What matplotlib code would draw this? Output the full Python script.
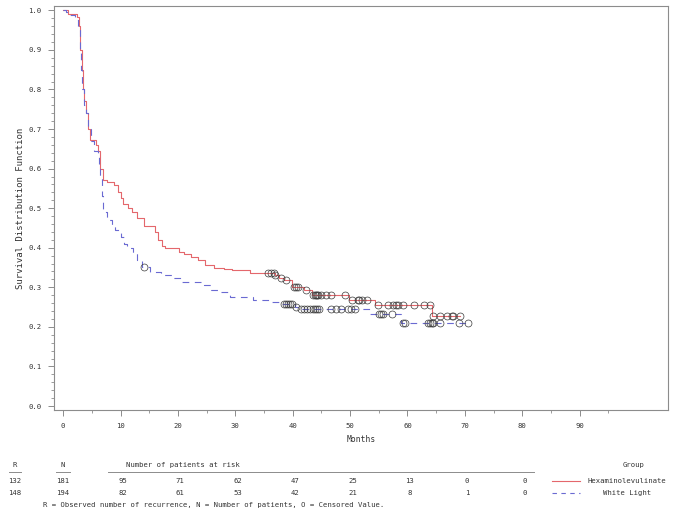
import numpy as np
import matplotlib
matplotlib.use("Agg")
import matplotlib.pyplot as plt
import matplotlib.transforms as mtransforms
from matplotlib.lines import Line2D
from matplotlib.ticker import MultipleLocator

# Kaplan-Meier steps (months, survival after the step)
hex_times = [0, 0.9, 2.4, 2.7, 3.0, 3.2, 3.4, 3.7, 4.0, 4.3, 4.7, 5.8, 6.1, 6.5, 7.0,
             7.6, 8.8, 9.5, 10.0, 10.5, 11.3, 12.0, 12.9, 14.0, 16.0, 16.6, 17.2, 17.8,
             20.1, 21.0, 22.2, 23.5, 24.8, 26.3, 28.0, 29.5, 32.5, 36.9, 37.6, 38.5,
             39.8, 41.9, 43.3, 49.8, 54.4, 64.2, 69.2]
hex_surv = [1.0, 0.99, 0.983, 0.96, 0.90, 0.85, 0.80, 0.77, 0.74, 0.70, 0.672, 0.66,
            0.645, 0.60, 0.571, 0.565, 0.558, 0.54, 0.525, 0.51, 0.50, 0.49, 0.475,
            0.455, 0.44, 0.42, 0.405, 0.399, 0.389, 0.383, 0.376, 0.37, 0.356, 0.348,
            0.345, 0.343, 0.336, 0.33, 0.324, 0.318, 0.30, 0.293, 0.28, 0.268, 0.255,
            0.227, 0.227]
hex_censor = [35.7, 36.3, 36.7, 37.0, 37.9, 38.8, 40.2, 40.6, 41.0, 42.3, 43.6, 43.8,
              44.0, 44.2, 44.4, 45.0, 45.8, 46.7, 49.1, 50.4, 51.3, 51.6, 52.0, 53.0,
              54.9, 56.6, 57.5, 58.0, 58.4, 59.3, 61.2, 62.8, 64.0, 64.5, 65.6, 66.8,
              67.7, 68.0, 69.2]

wl_times = [0, 0.5, 1.0, 2.0, 2.5, 2.9, 3.1, 3.3, 3.6, 3.9, 4.3, 4.8, 5.3, 6.0, 6.3,
            6.5, 6.8, 7.0, 7.6, 8.5, 9.1, 10.0, 10.6, 11.2, 12.2, 12.9, 13.8, 15.2,
            17.0, 19.2, 20.5, 24.6, 25.8, 27.2, 29.0, 33.0, 36.3, 37.8, 40.4, 41.2,
            53.5, 58.8, 70.6]
wl_surv = [1.0, 0.995, 0.987, 0.975, 0.957, 0.90, 0.85, 0.80, 0.76, 0.74, 0.70, 0.67,
           0.645, 0.63, 0.60, 0.575, 0.53, 0.49, 0.47, 0.455, 0.444, 0.427, 0.41, 0.40,
           0.386, 0.37, 0.351, 0.338, 0.331, 0.323, 0.313, 0.306, 0.293, 0.288, 0.275,
           0.268, 0.263, 0.258, 0.25, 0.245, 0.232, 0.209, 0.209]
wl_censor = [14.1, 38.5, 38.9, 39.2, 39.5, 39.8, 40.6, 41.4, 41.9, 42.5, 43.0, 43.5,
             43.9, 44.2, 44.6, 46.7, 47.6, 48.4, 49.7, 50.2, 50.9, 55.0, 55.4, 55.8,
             57.3, 59.3, 59.6, 63.6, 63.9, 64.2, 64.5, 65.6, 68.9, 70.6]

groups = ["Hexaminolevulinate", "White Light"]
recurrences = [132, 148]
patients = [181, 194]
risk_months = [10, 20, 30, 40, 50, 60, 70, 80]
hex_at_risk = [95, 71, 62, 47, 25, 13, 0, 0]
wl_at_risk = [82, 61, 53, 42, 21, 8, 1, 0]

red = "#e4676c"
blue = "#6a6ad2"
gray = "#8c8c8c"
mono = "DejaVu Sans Mono"
fs = 5.2

W, H = 675, 517


def surv_at(times, surv, t):
    i = np.searchsorted(times, t, side="right") - 1
    return surv[i]


fig = plt.figure(figsize=(W / 100, H / 100), dpi=100)
ax = fig.add_axes([54 / W, 1 - 410 / H, (668 - 54) / W, (410 - 6) / H])

ax.step(hex_times, hex_surv, where="post", color=red, lw=0.8)
ax.step(wl_times, wl_surv, where="post", color=blue, lw=0.8, dashes=(6, 5))

hc_y = [surv_at(hex_times, hex_surv, t) for t in hex_censor]
wc_y = [surv_at(wl_times, wl_surv, t) for t in wl_censor]
ax.plot(hex_censor, hc_y, "o", ms=5, mfc="none", mec="#3a3a3a", mew=0.5)
ax.plot(wl_censor, wc_y, "o", ms=5, mfc="none", mec="#3a3a3a", mew=0.5)

ax.set_xlim(-1.6, 105.4)
ax.set_ylim(-0.0101, 1.0109)
ax.yaxis.set_major_locator(MultipleLocator(0.1))
ax.yaxis.set_minor_locator(MultipleLocator(0.02))
ax.set_xticks(range(0, 100, 10))
ax.set_xticks([5, 15, 25, 35, 45, 55, 65, 75, 85, 95], minor=True)
ax.set_xticklabels([str(v) for v in range(0, 100, 10)])
ax.set_yticklabels(["%.1f" % v for v in ax.get_yticks()])
for s in ax.spines.values():
    s.set_color(gray)
    s.set_linewidth(0.8)
ax.tick_params(which="major", length=4, width=0.7, color=gray, labelsize=fs,
               pad=5, labelcolor="#333333")
ax.tick_params(which="minor", length=2, width=0.6, color=gray)
for lab in ax.get_xticklabels() + ax.get_yticklabels():
    lab.set_family(mono)

fig.text(21 / W, 1 - 208 / H, "Survival Distribution Function", rotation=90,
         ha="center", va="center", family=mono, fontsize=6.5, color="#333333")
fig.text(361 / W, 1 - 440 / H, "Months", ha="center", va="center",
         family=mono, fontsize=5.8, color="#333333")

# at-risk table under the plot
tr = mtransforms.blended_transform_factory(ax.transData, fig.transFigure)
txt = dict(family=mono, fontsize=fs, color="#333333", va="center")
fig.text(15 / W, 1 - 465 / H, "R", ha="center", **txt)
fig.text(63 / W, 1 - 465 / H, "N", ha="center", **txt)
fig.add_artist(Line2D([9 / W, 21 / W], [1 - 472 / H] * 2, color=gray, lw=0.7))
fig.add_artist(Line2D([56 / W, 70 / W], [1 - 472 / H] * 2, color=gray, lw=0.7))
fig.text(126 / W, 1 - 465 / H, "Number of patients at risk", ha="left", **txt)
fig.add_artist(Line2D([108 / W, 534 / W], [1 - 472 / H] * 2, color=gray, lw=0.7))
fig.text(634 / W, 1 - 465 / H, "Group", ha="center", **txt)

rows = [(hex_at_risk, 481), (wl_at_risk, 493)]
for k, (vals, py) in enumerate(rows):
    y = 1 - py / H
    fig.text(15 / W, y, str(recurrences[k]), ha="center", **txt)
    fig.text(63 / W, y, str(patients[k]), ha="center", **txt)
    for m, v in zip(risk_months, vals):
        ax.text(m + 0.4, y, str(v), ha="center", transform=tr, **txt)
    fig.text(627 / W, y, groups[k], ha="center", **txt)

fig.add_artist(Line2D([552 / W, 580 / W], [1 - 481 / H] * 2, color=red, lw=0.8))
fig.add_artist(Line2D([552 / W, 580 / W], [1 - 493 / H] * 2, color=blue, lw=0.8,
                      dashes=(4, 4)))

fig.text(43 / W, 1 - 505 / H,
         "R = Observed number of recurrence, N = Number of patients, O = Censored Value.",
         ha="left", **txt)

fig.savefig("out.png", dpi=100)
